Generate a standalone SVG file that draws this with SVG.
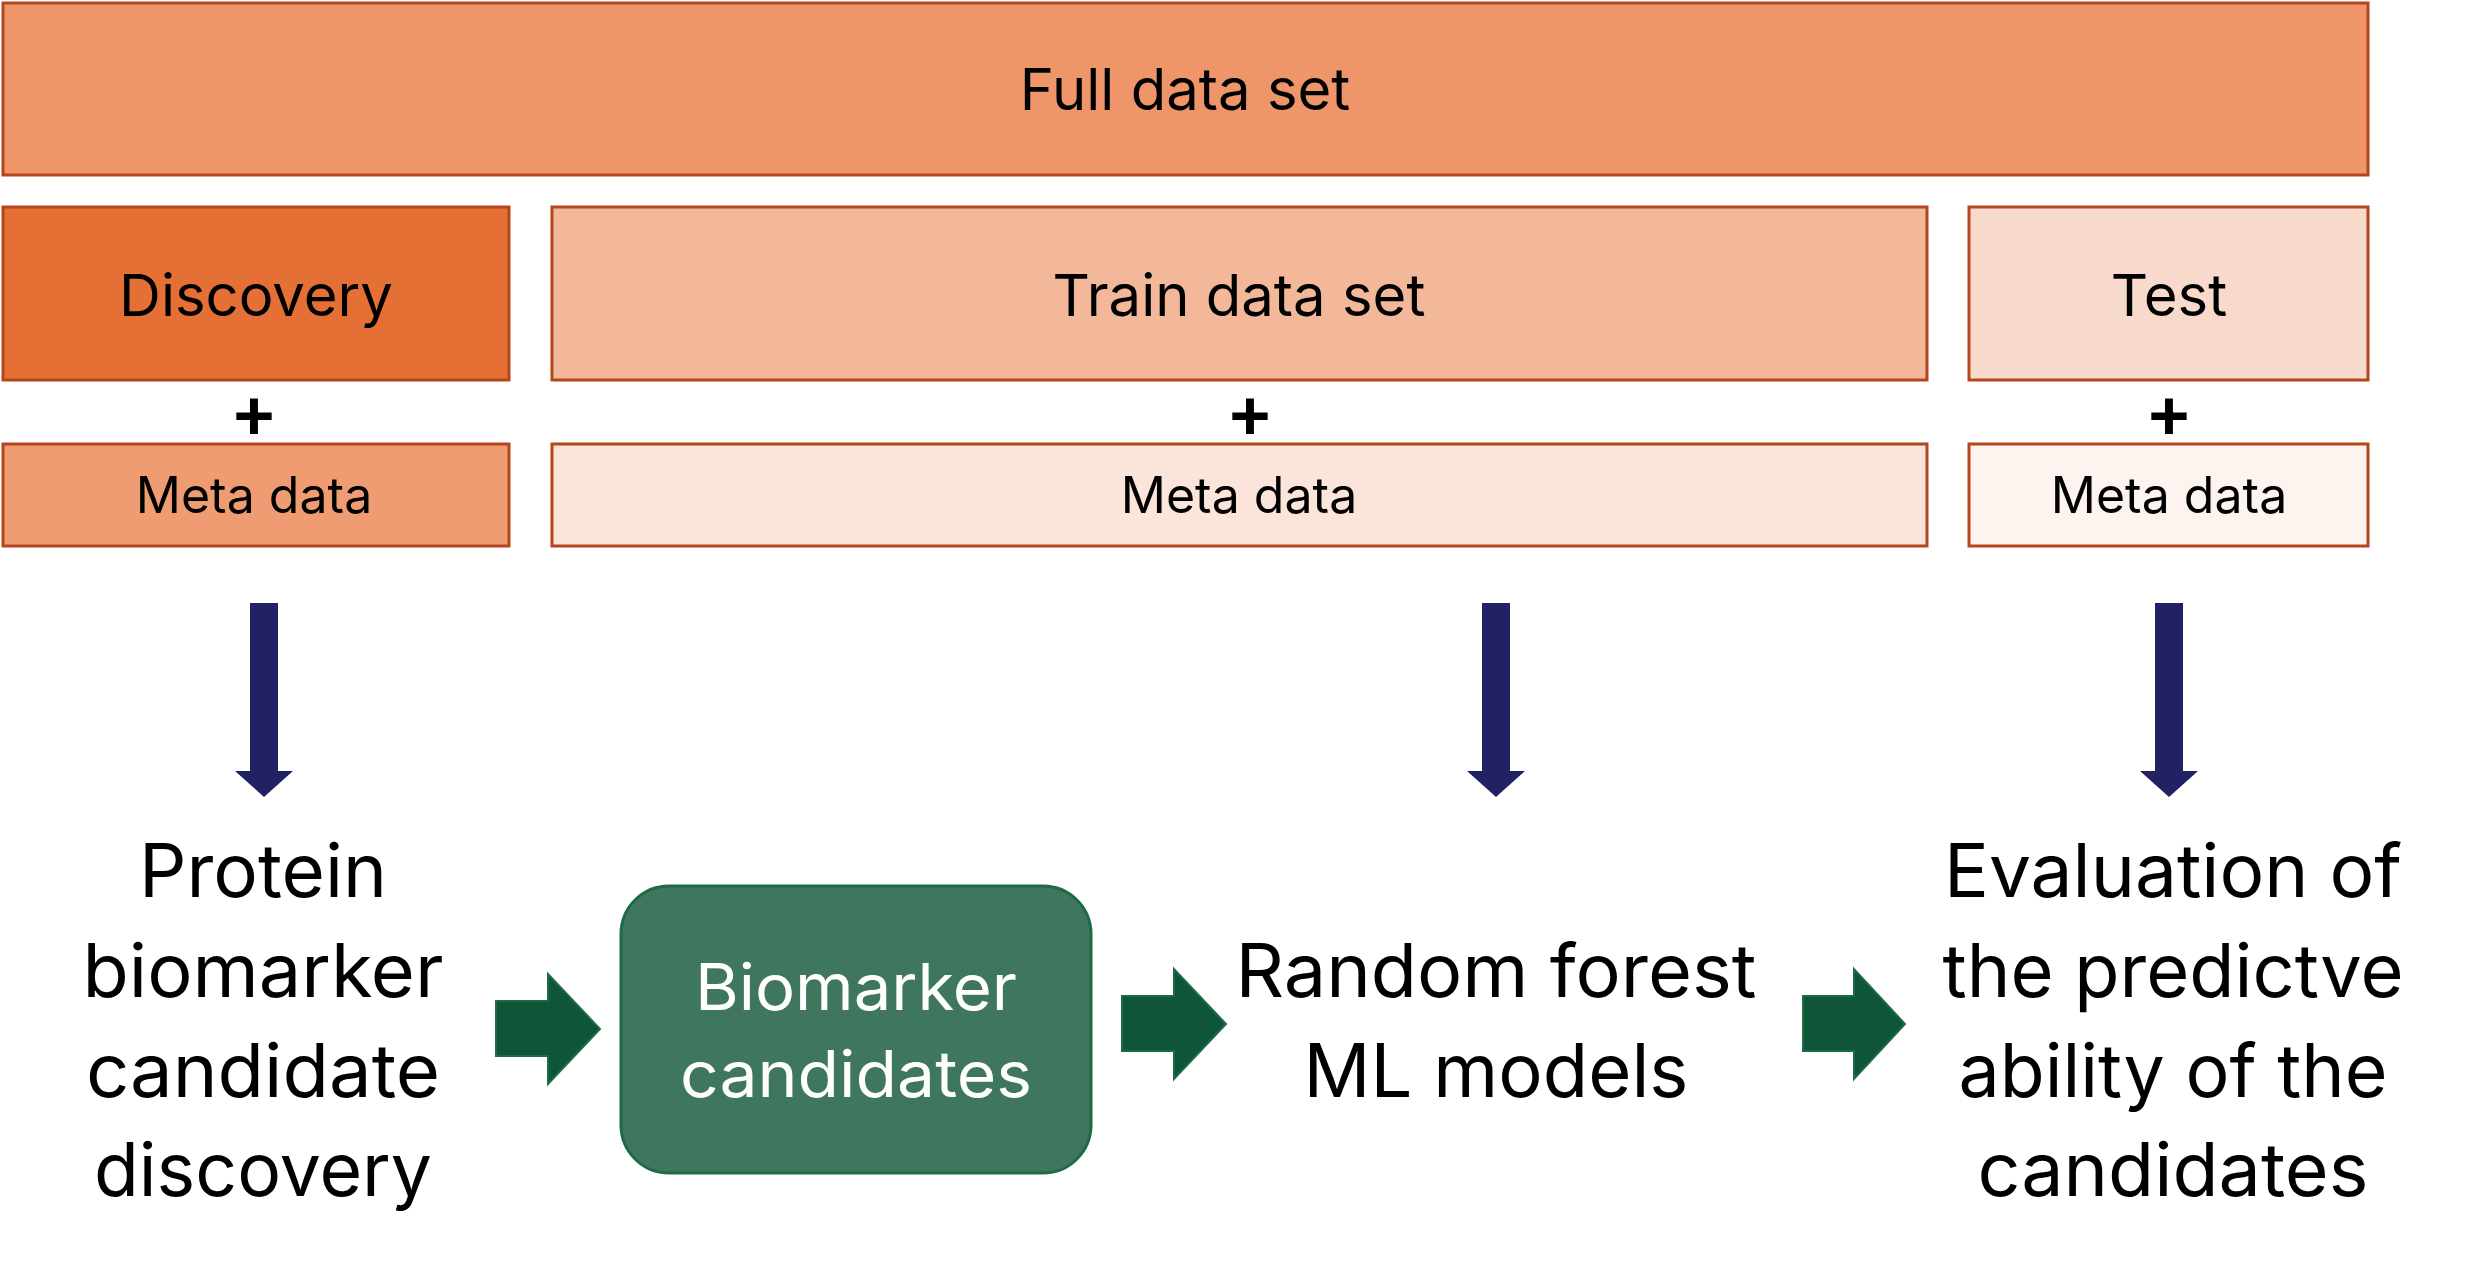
<svg xmlns="http://www.w3.org/2000/svg" width="2475" height="1274" viewBox="0 0 2475 1274">
<style>
.box{stroke:#B5461B;stroke-width:3}
.lbl{font-family:Inter,"Liberation Sans",sans-serif;fill:#000;text-anchor:middle}
.big{font-size:58px}
.meta{font-size:50px}
.plus{font-size:72px;font-weight:600}
.flow{font-family:Inter,"Liberation Sans",sans-serif;font-size:74px;fill:#000;text-anchor:middle}
.blue{fill:#212163}
.green{fill:#0F5537;stroke:#1E6B47;stroke-width:2}
</style>
<rect width="2475" height="1274" fill="#fff"/>
<g id="full"><rect class="box" x="3" y="3" width="2365" height="172" fill="#EE956A"/><text class="lbl big" x="1185" y="110">Full data set</text></g>
<g id="discovery"><rect class="box" x="3" y="207" width="506" height="173" fill="#E57035"/><text class="lbl big" x="256" y="316">Discovery</text></g>
<g id="train"><rect class="box" x="552" y="207" width="1375" height="173" fill="#F3B89A"/><text class="lbl big" x="1239" y="316">Train data set</text></g>
<g id="test"><rect class="box" x="1969" y="207" width="399" height="173" fill="#F8DACC"/><text class="lbl big" x="2169" y="316">Test</text></g>
<g id="plus1"><text class="lbl plus" x="254" y="437">+</text></g>
<g id="plus2"><text class="lbl plus" x="1250" y="437">+</text></g>
<g id="plus3"><text class="lbl plus" x="2169" y="437">+</text></g>
<g id="meta1"><rect class="box" x="3" y="444" width="506" height="102" fill="#EF9C73"/><text class="lbl meta" x="254" y="513">Meta data</text></g>
<g id="meta2"><rect class="box" x="552" y="444" width="1375" height="102" fill="#FBE4D9"/><text class="lbl meta" x="1239" y="513">Meta data</text></g>
<g id="meta3"><rect class="box" x="1969" y="444" width="399" height="102" fill="#FDF3EF"/><text class="lbl meta" x="2169" y="513">Meta data</text></g>
<g id="discovery-step"><text class="flow"><tspan x="263" y="897" textLength="248" lengthAdjust="spacingAndGlyphs">Protein</tspan><tspan x="263" y="997" textLength="361" lengthAdjust="spacingAndGlyphs">biomarker</tspan><tspan x="263" y="1097" textLength="354" lengthAdjust="spacingAndGlyphs">candidate</tspan><tspan x="263" y="1196" textLength="338" lengthAdjust="spacingAndGlyphs">discovery</tspan></text></g>
<g id="candidates"><rect x="621" y="886" width="470" height="287" rx="48" fill="#3E775D" stroke="#1E6B47" stroke-width="3"/><text class="flow" style="fill:#fff;font-size:64px"><tspan x="856" y="1010" textLength="322" lengthAdjust="spacingAndGlyphs">Biomarker</tspan><tspan x="856" y="1097" textLength="352" lengthAdjust="spacingAndGlyphs">candidates</tspan></text></g>
<g id="rf"><text class="flow"><tspan x="1496" y="997" textLength="521" lengthAdjust="spacingAndGlyphs">Random forest</tspan><tspan x="1496" y="1097" textLength="385" lengthAdjust="spacingAndGlyphs">ML models</tspan></text></g>
<g id="evaluation"><text class="flow"><tspan x="2173" y="897" textLength="458" lengthAdjust="spacingAndGlyphs">Evaluation of</tspan><tspan x="2173" y="997" textLength="461" lengthAdjust="spacingAndGlyphs">the predictve</tspan><tspan x="2173" y="1097" textLength="429" lengthAdjust="spacingAndGlyphs">ability of the</tspan><tspan x="2173" y="1196" textLength="391" lengthAdjust="spacingAndGlyphs">candidates</tspan></text></g>
<g id="connectors">
<path class="blue" d="M250 603 H278 V771 H293 L264 797 L235 771 H250 Z"/>
<path class="blue" d="M1482 603 H1510 V771 H1525 L1496 797 L1467 771 H1482 Z"/>
<path class="blue" d="M2155 603 H2183 V771 H2198 L2169 797 L2140 771 H2155 Z"/>
<path class="green" d="M496 1001 H548 V974 L600 1029 L548 1084 V1056 H496 Z"/>
<path class="green" d="M1122 996 H1174 V969 L1226 1024 L1174 1079 V1051 H1122 Z"/>
<path class="green" d="M1803 996 H1854 V969 L1905 1024 L1854 1079 V1051 H1803 Z"/>
</g>
</svg>
